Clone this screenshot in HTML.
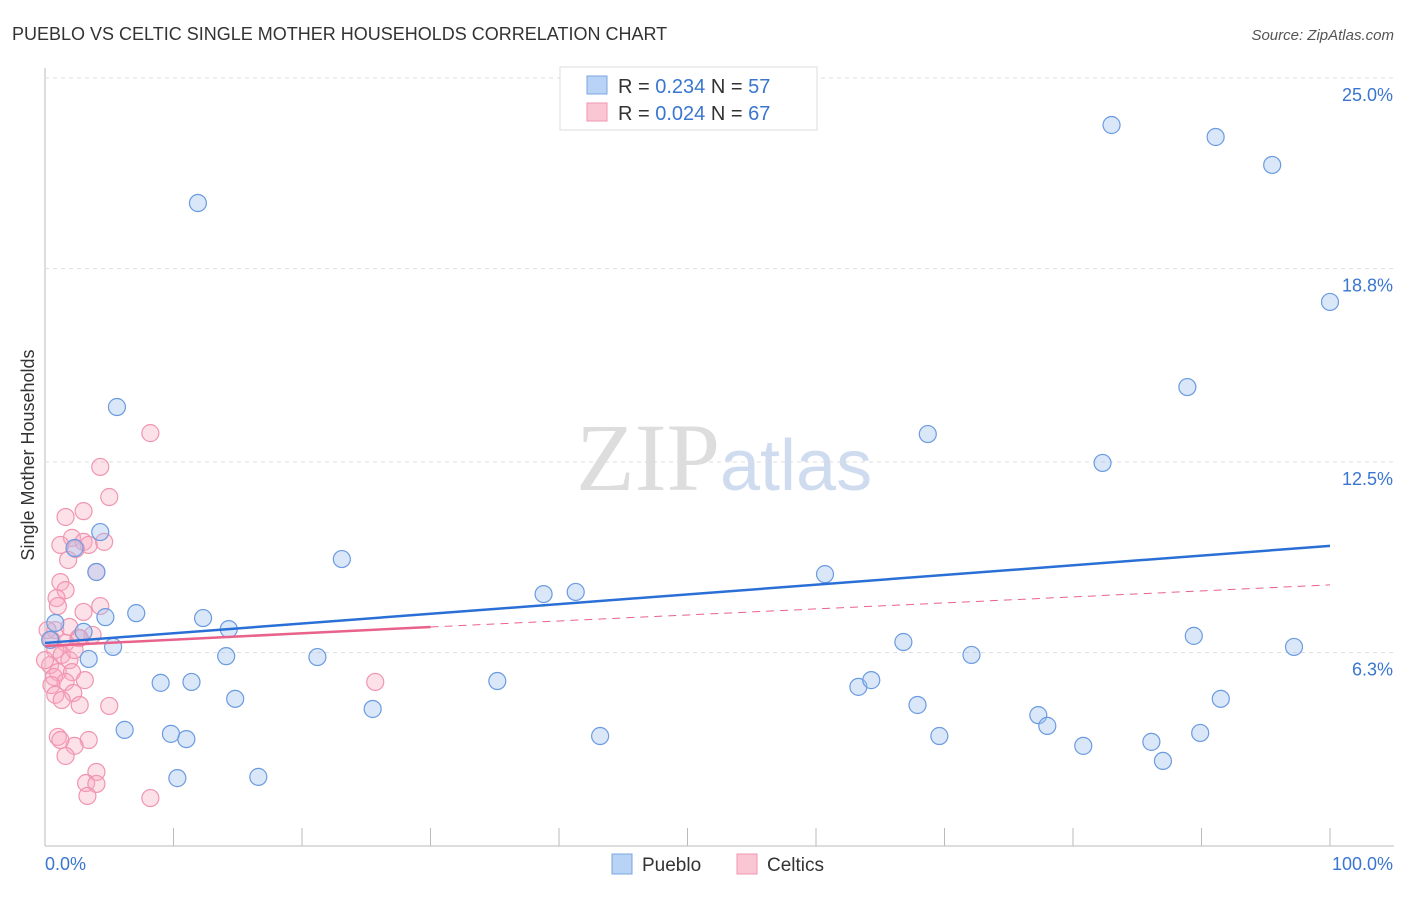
<!DOCTYPE html><html><head><meta charset="utf-8"><style>
body{margin:0;background:#fff;font-family:"Liberation Sans",sans-serif}
</style></head><body>
<svg id="c" width="1406" height="892" xmlns="http://www.w3.org/2000/svg">
<text x="12" y="40" font-size="18" fill="#333">PUEBLO VS CELTIC SINGLE MOTHER HOUSEHOLDS CORRELATION CHART</text>
<text x="1394" y="40" font-size="15" fill="#555" font-style="italic" text-anchor="end">Source: ZipAtlas.com</text>
<text x="720" y="490" font-size="96" fill="#ddd" font-family="Liberation Serif" text-anchor="end">ZIP</text>
<text x="720" y="490" font-size="72" fill="#cfdcf0">atlas</text>
<text x="34" y="455" font-size="18" fill="#333" transform="rotate(-90 34 455)" text-anchor="middle">Single Mother Households</text>
<g id="grid"></g><g id="marks"></g>
<g>
<rect x="560" y="67" width="257" height="63" fill="#fff" stroke="#ddd"/>
<rect x="587" y="76" width="20" height="18" fill="#b8d3f5" stroke="#7aa6e0"/>
<rect x="587" y="103" width="20" height="18" fill="#fac6d3" stroke="#f095b0"/>
<text x="618" y="93" font-size="20" fill="#333">R = <tspan fill="#3a76d0">0.234</tspan>   N = <tspan fill="#3a76d0">57</tspan></text>
<text x="618" y="120" font-size="20" fill="#333">R = <tspan fill="#3a76d0">0.024</tspan>   N = <tspan fill="#3a76d0">67</tspan></text>
</g>
<g>
<rect x="612" y="854" width="20" height="20" fill="#b8d3f5" stroke="#7aa6e0"/>
<text x="642" y="871" font-size="19" fill="#333">Pueblo</text>
<rect x="737" y="854" width="20" height="20" fill="#fac6d3" stroke="#f095b0"/>
<text x="767" y="871" font-size="19" fill="#333">Celtics</text>
</g>
</svg>
<script>
const yTicks=[25.0,18.8,12.5,6.3];
const yTickLabels=["25.0%","18.8%","12.5%","6.3%"];
const xTickVals=[0,10,20,30,40,50,60,70,80,90,100];
const puebloX=[11.9,83.0,91.1,95.5,100,5.6,88.9,68.7,82.3,4.3,2.3,23.1,4.0,60.7,38.8,41.3,7.1,4.7,12.3,14.3,0.8,3.0,89.4,5.3,66.8,97.2,3.4,14.1,21.2,72.1,9.0,11.4,35.2,63.3,64.3,14.8,91.5,25.5,67.9,77.3,78.0,6.2,9.8,11.0,43.2,69.6,80.8,86.1,89.9,87.0,10.3,16.6,0.4];
const puebloY=[20.93,23.47,23.08,22.17,17.71,14.29,14.94,13.41,12.47,10.22,9.70,9.34,8.92,8.85,8.20,8.27,7.58,7.45,7.42,7.06,7.26,6.97,6.84,6.48,6.64,6.48,6.09,6.18,6.15,6.22,5.31,5.34,5.37,5.18,5.40,4.79,4.79,4.46,4.59,4.26,3.91,3.78,3.65,3.48,3.58,3.58,3.26,3.39,3.68,2.77,2.21,2.25,6.71];
const celticX=[8.2,4.3,5.0,3.0,1.6,2.1,3.0,3.4,4.6,1.2,1.8,2.4,4.0,1.2,1.6,0.9,1.0,3.0,4.3,0.8,1.9,2.6,3.7,1.6,2.7,0.8,1.3,1.9,0.4,1.0,2.1,3.1,0.7,1.6,0.5,2.2,0.8,1.3,2.7,5.0,25.7,1.0,1.2,3.4,2.3,1.6,4.0,3.2,4.0,3.3,8.2,0.2,0.5,2.3,0];
const celticY=[13.44,12.34,11.36,10.9,10.71,10.03,9.9,9.8,9.9,9.8,9.31,9.67,8.92,8.59,8.33,8.07,7.81,7.62,7.81,7.03,7.13,6.77,6.87,6.61,6.77,6.38,6.22,6.05,5.89,5.66,5.66,5.4,5.5,5.34,5.24,4.98,4.92,4.75,4.59,4.56,5.34,3.55,3.45,3.45,3.26,2.93,2.41,2.05,2.02,1.63,1.56,7.03,6.71,6.38,6.05];
const puebloTrend=[6.61,9.77];
const celticTrend=[6.51,7.13,8.5];
const NS="http://www.w3.org/2000/svg";
const X=v=>45+v*12.85, Y=v=>846-v*30.72;
function mk(t,a,p){const e=document.createElementNS(NS,t);for(const k in a)e.setAttribute(k,a[k]);p.appendChild(e);return e;}
const g=document.getElementById('grid'),m=document.getElementById('marks');
let ax=mk('line',{x1:45,y1:68,x2:45,y2:846,stroke:'#bbb'},g);

let bx=mk('line',{x1:45,y1:846,x2:1394,y2:846,stroke:'#bbb'},g);

yTicks.forEach((v,i)=>{let l=mk('line',{x1:45,y1:Y(v),x2:1394,y2:Y(v),stroke:'#ddd','stroke-dasharray':'4 4'},g);

let t=mk('text',{x:1393,y:Y(v)+23,'font-size':18,fill:'#3a76d0','text-anchor':'end'},g);t.textContent=yTickLabels[i];
});
xTickVals.forEach(v=>{if(v===0)return;let l=mk('line',{x1:X(v),y1:828,x2:X(v),y2:846,stroke:'#bbb'},g);
});
let t0=mk('text',{x:45,y:870,'font-size':18,fill:'#3a76d0'},g);t0.textContent='0.0%';

let t1=mk('text',{x:1393,y:870,'font-size':18,fill:'#3a76d0','text-anchor':'end'},g);t1.textContent='100.0%';

celticX.forEach((v,i)=>{let c=mk('circle',{cx:X(v),cy:Y(celticY[i]),r:8.5,fill:'rgba(248,170,192,0.35)',stroke:'#f095b0','stroke-width':1.2},m);
});
puebloX.forEach((v,i)=>{let c=mk('circle',{cx:X(v),cy:Y(puebloY[i]),r:8.5,fill:'rgba(160,195,240,0.4)',stroke:'#6b9be0','stroke-width':1.2},m);
});
let pl=mk('line',{x1:X(0),y1:Y(puebloTrend[0]),x2:X(100),y2:Y(puebloTrend[1]),stroke:'#2a6fd6','stroke-width':2.5},m);

let cl=mk('line',{x1:X(0),y1:Y(celticTrend[0]),x2:X(30),y2:Y(celticTrend[1]),stroke:'#e8628c','stroke-width':2.5},m);

let cd=mk('line',{x1:X(30),y1:Y(celticTrend[1]),x2:X(100),y2:Y(celticTrend[2]),stroke:'#e8628c','stroke-width':1,'stroke-dasharray':'8 6'},m);

</script></body></html>
